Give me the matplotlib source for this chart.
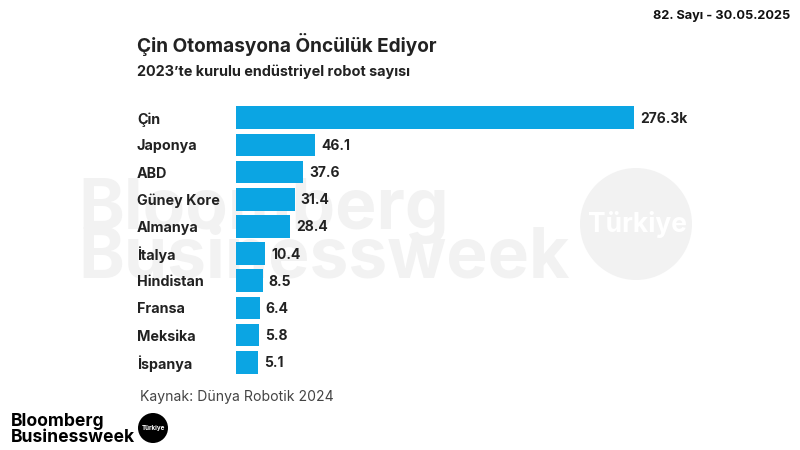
import numpy as np
import matplotlib
matplotlib.use("Agg")
import matplotlib.pyplot as plt
from matplotlib.patches import Circle

plt.rcParams["font.family"] = ["Inter", "DejaVu Sans"]

countries = ["Çin", "Japonya", "ABD", "Güney Kore", "Almanya", "İtalya", "Hindistan", "Fransa", "Meksika", "İspanya"]
robots = [276.3, 46.1, 37.6, 31.4, 28.4, 10.4, 8.5, 6.4, 5.8, 5.1]
value_labels = ["276.3k", "46.1", "37.6", "31.4", "28.4", "10.4", "8.5", "6.4", "5.8", "5.1"]

W, H = 800, 450
BAR_COLOR = "#0ba5e3"
TEXT_COLOR = "#222222"

fig = plt.figure(figsize=(8, 4.5), dpi=100, facecolor="white")

# tam sayfa katman, piksel koordinatlari
bg = fig.add_axes([0, 0, 1, 1])
bg.set_xlim(0, W)
bg.set_ylim(H, 0)
bg.axis("off")

# filigran
bg.text(78, 211, "Bloomberg", fontsize=50, fontweight="bold", color="#f2f2f2", va="center", ha="left")
bg.text(78, 259, "Businessweek", fontsize=50, fontweight="bold", color="#f2f2f2", va="center", ha="left")
bg.add_patch(Circle((636, 224), 56, color="#f2f2f2", lw=0))
bg.text(637, 225, "Türkiye", fontsize=19, fontweight="bold", color="white", va="center", ha="center")

# basliklar
bg.text(137, 44, "Çin Otomasyona Öncülük Ediyor", fontsize=13.7, fontweight="bold", color=TEXT_COLOR, va="center")
bg.text(137, 72, "2023’te kurulu endüstriyel robot sayısı", fontsize=10.4, fontweight="bold", color=TEXT_COLOR, va="center")
bg.text(790, 16, "82. Sayı - 30.05.2025", fontsize=9.2, fontweight="bold", color="#111111", va="center", ha="right")
bg.text(140, 397, "Kaynak: Dünya Robotik 2024", fontsize=10.1, color="#444444", va="center")

# logo
bg.text(11, 422, "Bloomberg", fontsize=12.6, fontweight="bold", color="black", va="center")
bg.text(11, 437, "Businessweek", fontsize=12.6, fontweight="bold", color="black", va="center")
bg.add_patch(Circle((153, 428), 15, color="black", lw=0))
bg.text(153, 428, "Türkiye", fontsize=4.5, fontweight="bold", color="white", va="center", ha="center")

# grafik: eksen sifirdan degil, yaklasik -10.8'den basliyor
baseline = -10.8
ax = fig.add_axes([236 / W, 1 - 378 / H, (634 - 236) / W, (378 - 102) / H])
ax.patch.set_alpha(0)
y = np.arange(len(countries))
ax.barh(y, np.array(robots) - baseline, left=baseline, height=0.84, color=BAR_COLOR)
ax.set_xlim(baseline, robots[0])
ax.set_ylim(len(countries) - 0.42, -0.58)
ax.set_yticks(y)
ax.set_yticklabels(countries, fontsize=10.3, fontweight="bold", color=TEXT_COLOR, ha="left")
ax.tick_params(axis="y", length=0, pad=71.3)
ax.set_xticks([])
for s in ax.spines.values():
    s.set_visible(False)

for i, (v, lab) in enumerate(zip(robots, value_labels)):
    ax.annotate(lab, (v, i), xytext=(6, -1), textcoords="offset pixels", va="center",
                fontsize=10, fontweight="bold", color=TEXT_COLOR, annotation_clip=False)

fig.savefig("out.png", dpi=100)
